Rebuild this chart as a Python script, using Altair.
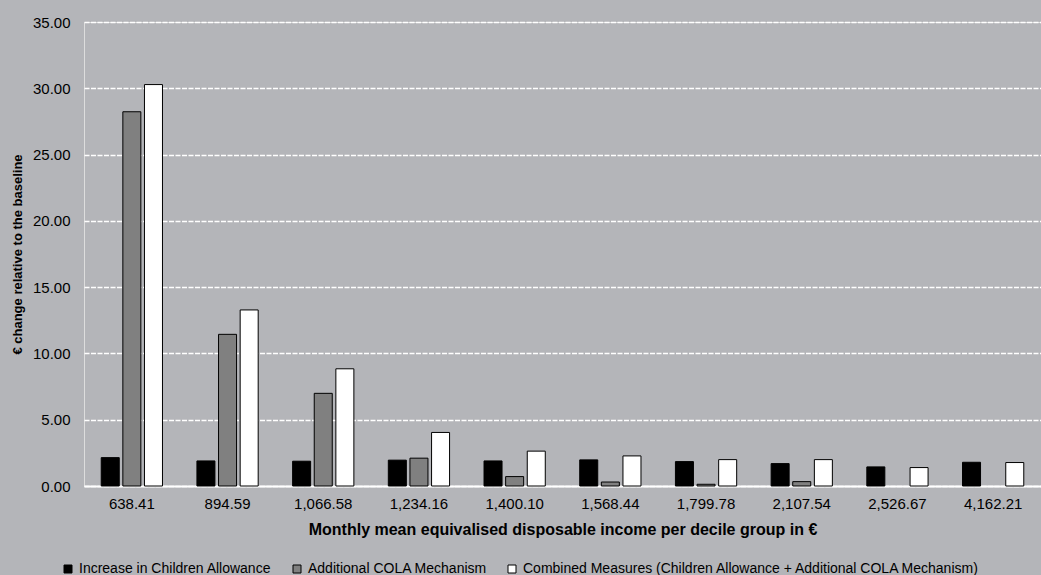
import altair as alt
import pandas as pd

deciles = ["638.41", "894.59", "1,066.58", "1,234.16", "1,400.10",
           "1,568.44", "1,799.78", "2,107.54", "2,526.67", "4,162.21"]
series = ["Increase in Children Allowance",
          "Additional COLA Mechanism",
          "Combined Measures (Children Allowance + Additional COLA Mechanism)"]
children = [2.14, 1.89, 1.87, 1.95, 1.89, 1.97, 1.84, 1.69, 1.44, 1.79]
cola = [28.23, 11.44, 6.99, 2.10, 0.71, 0.30, 0.13, 0.33, 0.0, 0.0]
combined = [30.28, 13.28, 8.84, 4.04, 2.63, 2.27, 1.99, 1.99, 1.39, 1.77]
colors = ["#000000", "#808080", "#ffffff"]

rows = []
for vals, s in zip([children, cola, combined], series):
    for d, v in zip(deciles, vals):
        rows.append({"decile": d, "series": s, "value": v})
df = pd.DataFrame(rows)

BG = "#b4b5b9"
FONT = "Liberation Sans"

bars = alt.Chart(df).mark_bar(strokeWidth=1).encode(
    x=alt.X("decile:N", sort=deciles,
            scale=alt.Scale(paddingInner=0.36, paddingOuter=0.18),
            axis=alt.Axis(title="Monthly mean equivalised disposable income per decile group in  €",
                          titleFontWeight="bold", titleFontSize=16, titleColor="#000000",
                          titleY=35, titleBaseline="top",
                          labelAngle=0, labelFontSize=15, labelColor="#000000",
                          labelPadding=10, ticks=False,
                          domain=True, domainColor="#ffffff", domainWidth=2)),
    xOffset=alt.XOffset("series:N", sort=series,
                        scale=alt.Scale(paddingInner=0.167, paddingOuter=0)),
    y=alt.Y("value:Q", scale=alt.Scale(domain=[0, 35], nice=False),
            axis=alt.Axis(title="€ change relative  to the  baseline",
                          titleFontWeight="bold", titleFontSize=13, titleColor="#000000",
                          titlePadding=8,
                          values=[0, 5, 10, 15, 20, 25, 30, 35], format=".2f",
                          labelFontSize=15, labelColor="#000000", labelPadding=14,
                          ticks=False, domain=False,
                          grid=True, gridColor="#ffffff", gridDash=[5, 1.5],
                          gridWidth=1.5)),
    fill=alt.Fill("series:N", sort=series,
                  scale=alt.Scale(domain=series, range=colors),
                  legend=alt.Legend(title=None, orient="none", direction="horizontal",
                                    legendX=-23, legendY=540, columns=3,
                                    symbolType="square", symbolSize=64,
                                    symbolStrokeColor="#000000", symbolStrokeWidth=1,
                                    labelFontSize=14, labelColor="#000000",
                                    labelOffset=4, columnPadding=18, labelLimit=600)),
    stroke=alt.condition(alt.datum.value > 0, alt.value("#000000"), alt.value("transparent")),
)

chart = bars.properties(
    width=957, height=464,
    background=BG,
    padding={"left": 84, "top": 22, "right": 0, "bottom": 89},
    autosize=alt.AutoSizeParams(type="none"),
).configure_view(fill=BG, stroke=None).configure(font=FONT)

chart.save("out.html", embed_options={"renderer": "svg", "actions": False})
